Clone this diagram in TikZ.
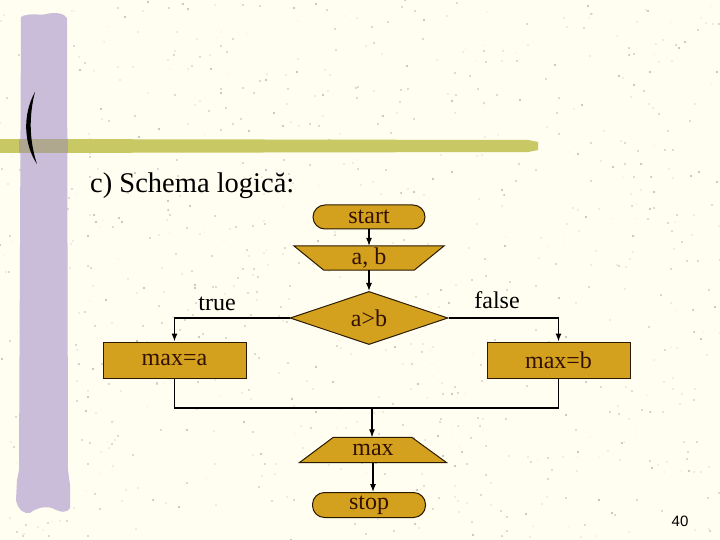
\documentclass[tikz,border=0pt]{standalone}
\usepackage{fontspec}
\setmainfont{Liberation Serif}
\newfontfamily\numfont{Liberation Sans}
\usetikzlibrary{shapes.geometric,arrows.meta}
\definecolor{bgcol}{HTML}{FFFEF0}
\definecolor{barpurple}{HTML}{C9BDDA}
\definecolor{bargreen}{HTML}{C8C864}
\definecolor{baroverlap}{HTML}{B0A88E}
\definecolor{nodefill}{HTML}{D4A11E}
\definecolor{nodeline}{HTML}{2A1A00}
\definecolor{nodetext}{HTML}{331100}
\pgfdeclarelayer{bg}
\pgfdeclarelayer{shapes}
\pgfsetlayers{bg,shapes,main}
\tikzset{
  nodefont/.style={font=\fontsize{24}{28}\selectfont, text=nodetext},
  shapefill/.style={fill=nodefill, draw=nodeline, line width=1pt},
  stadium/.style={nodefont, shapefill, rounded corners=12pt, inner sep=0pt},
  boxnode/.style={nodefont, shapefill, inner sep=0pt},
  ghost/.style={nodefont, inner sep=0pt, draw=none},
  lbl/.style={font=\fontsize{24}{28}\selectfont, text=black, inner sep=0pt},
  conn/.style={line width=1.1pt, draw=black},
  arr/.style={conn, -{Latex[length=8pt,width=6pt]}},
}
\begin{document}
\begin{tikzpicture}[x=1pt,y=-1pt]
\useasboundingbox (0,0) rectangle (720,540);
\begin{pgfonlayer}{bg}
  \fill[bgcol] (0,0) rectangle (720,540);
  \pgfmathsetseed{4242}
  \foreach \i in {1,...,900} {
    \pgfmathsetmacro\xx{random(0,720)}
    \pgfmathsetmacro\yy{random(0,540)}
    \pgfmathsetmacro\rr{0.4+0.7*rnd}
    \fill[black!28] (\xx,\yy) circle (\rr);
  }
  % purple vertical bar
  \fill[barpurple] (21,17) .. controls (30,12) and (40,16) .. (46,14)
     .. controls (55,12) and (64,13) .. (67,18) -- (68,470) -- (70,485) -- (70,508)
     .. controls (66,514) and (60,512) .. (52,508)
     .. controls (44,506) and (36,508) .. (30,513)
     .. controls (24,514) and (18,510) .. (16,500) -- (17,480) -- (19,470) -- cycle;
  % green horizontal bar
  \fill[bargreen] (0,139) -- (528,140) -- (538,142) -- (538,150) -- (528,152) -- (0,153) -- cycle;
  \fill[baroverlap] (19,139) rectangle (67.5,153);
  % crescent
  \fill[black] (35,92) .. controls (22,115) and (24,145) .. (37,164)
     .. controls (29,140) and (29,115) .. (35,92) -- cycle;
\end{pgfonlayer}

\node[anchor=base west, font=\fontsize{28.5}{32}\selectfont, inner sep=0pt] (title) at (90,193) {c) Schema logică:};

\node[stadium, minimum width=112pt, minimum height=24pt] (start) at (369,217) {start};
\node[ghost, minimum width=150pt, minimum height=24pt] (ab) at (369,258) {a, b};
\node[nodefont, shapefill, diamond, inner sep=0pt, minimum width=158pt, minimum height=47pt] (d) at (369,318) {a>b};
\node[boxnode, minimum width=143pt, minimum height=36pt] (maxa) at (174.5,360) {max=a};
\node[boxnode, minimum width=143pt, minimum height=36pt] (maxb) at (558.5,360) {max=b};
\node[ghost, minimum width=147pt, minimum height=25pt] (mx) at (373,450) {max};
\node[stadium, minimum width=113pt, minimum height=25pt] (stop) at (369,505) {stop};

\begin{pgfonlayer}{shapes}
  \path[shapefill] (ab.north west) -- (ab.north east) -- ([xshift=-30pt]ab.south east)
     -- ([xshift=30pt]ab.south west) -- cycle;
  \path[shapefill] ([xshift=34pt]mx.north west) -- ([xshift=-35pt]mx.north east)
     -- (mx.south east) -- (mx.south west) -- cycle;
\end{pgfonlayer}

\node[lbl] (ltrue) at (217,304) {true};
\node[lbl] (lfalse) at (497,300) {false};
\node[font=\numfont\fontsize{15}{18}\selectfont, inner sep=0pt] (pnum) at (680,521) {40};

\coordinate (j) at (372,408);

\draw[arr] (start) -- (ab);
\draw[arr] (ab) -- (d);
\draw[arr] (d.west) -| (maxa.north);
\draw[arr] (d.east) -| (maxb.north);
\draw[conn] (maxa.south) |- (j) -| (maxb.south);
\draw[arr] (j) -- (j |- mx.north);
\draw[arr] (mx.south) -- (mx.south |- stop.north);
\end{tikzpicture}
\end{document}
